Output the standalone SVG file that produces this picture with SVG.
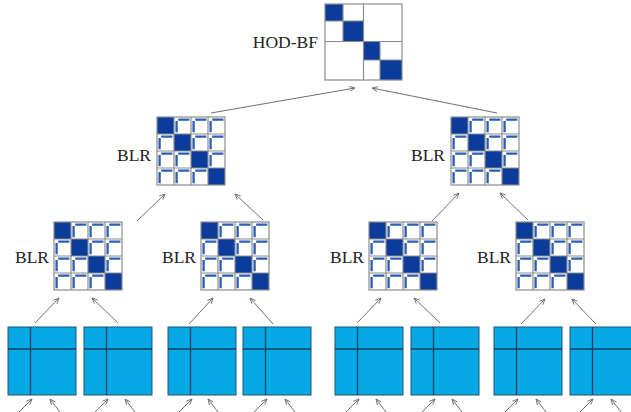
<svg xmlns="http://www.w3.org/2000/svg" xmlns:xlink="http://www.w3.org/1999/xlink" width="631" height="412" viewBox="0 0 631 412">
<style>
.lbl{font-family:"Liberation Serif","DejaVu Serif",serif;font-size:17.5px;fill:#222;text-anchor:end}
.grid{stroke:#8c8c8c;stroke-width:1.2;fill:none}
.diag{fill:#0b3b9b}
.mk{stroke:#2a5db3;stroke-width:2.3;fill:none}
.dense{fill:#05a9e6;stroke:#24506e;stroke-width:1}
.dl{stroke:#1d3f5a;stroke-width:1.3}
.conn{stroke:#707070;stroke-width:1;fill:none;marker-end:url(#ah)}
</style>
<defs>
<marker id="ah" viewBox="0 0 10 10" refX="9" refY="5" markerWidth="7" markerHeight="7" orient="auto" markerUnits="userSpaceOnUse">
<path d="M1,1.5 L9,5 L1,8.5" fill="none" stroke="#707070" stroke-width="1.3"/>
</marker>
<path id="cm" class="mk" d="M2.6,4 V15.2 M4.2,2.6 H15.4"/>
<g id="blr">
<rect x="0" y="0" width="68" height="68" fill="#fff"/>
<rect class="diag" x="0" y="0" width="17" height="17"/>
<rect class="diag" x="17" y="17" width="17" height="17"/>
<rect class="diag" x="34" y="34" width="17" height="17"/>
<rect class="diag" x="51" y="51" width="17" height="17"/>
<use xlink:href="#cm" x="17" y="0"/><use xlink:href="#cm" x="34" y="0"/><use xlink:href="#cm" x="51" y="0"/>
<use xlink:href="#cm" x="0" y="17"/><use xlink:href="#cm" x="34" y="17"/><use xlink:href="#cm" x="51" y="17"/>
<use xlink:href="#cm" x="0" y="34"/><use xlink:href="#cm" x="17" y="34"/><use xlink:href="#cm" x="51" y="34"/>
<use xlink:href="#cm" x="0" y="51"/><use xlink:href="#cm" x="17" y="51"/><use xlink:href="#cm" x="34" y="51"/>
<path class="grid" d="M17,0V68M34,0V68M51,0V68M0,17H68M0,34H68M0,51H68"/>
<rect class="grid" x="0" y="0" width="68" height="68"/>
</g>
<g id="dn">
<rect class="dense" x="0" y="0" width="68" height="68"/>
<path class="dl" d="M22.5,0V68M0,22H68"/>
</g>
</defs>

<g id="hodbf">
<rect x="325" y="4" width="77" height="76" fill="#fff"/>
<rect class="diag" x="325" y="4" width="18" height="17"/>
<rect class="diag" x="343" y="21" width="20" height="21"/>
<rect class="diag" x="363" y="42" width="17" height="18"/>
<rect class="diag" x="380" y="60" width="22" height="20"/>
<path class="grid" d="M363.5,4V80M325,41.5H402M343,4V42M325,21H363M380,42V80M363,60H402"/>
<rect class="grid" x="325" y="4" width="77" height="76"/>
<text class="lbl" x="318" y="48">HOD-BF</text>
</g>

<g id="blr-l2a"><use xlink:href="#blr" x="157" y="117"/><text class="lbl" x="151" y="161">BLR</text></g>
<g id="blr-l2b"><use xlink:href="#blr" x="451" y="117"/><text class="lbl" x="445" y="161">BLR</text></g>
<g id="blr-l3a"><use xlink:href="#blr" x="54" y="222"/><text class="lbl" x="49" y="263">BLR</text></g>
<g id="blr-l3b"><use xlink:href="#blr" x="201" y="222"/><text class="lbl" x="196" y="263">BLR</text></g>
<g id="blr-l3c"><use xlink:href="#blr" x="369" y="222"/><text class="lbl" x="364" y="263">BLR</text></g>
<g id="blr-l3d"><use xlink:href="#blr" x="516" y="222"/><text class="lbl" x="511" y="263">BLR</text></g>

<g id="d1"><use xlink:href="#dn" x="8" y="327"/></g>
<g id="d2"><use xlink:href="#dn" x="84" y="327"/></g>
<g id="d3"><use xlink:href="#dn" x="168" y="327"/></g>
<g id="d4"><use xlink:href="#dn" x="243" y="327"/></g>
<g id="d5"><use xlink:href="#dn" x="335" y="327"/></g>
<g id="d6"><use xlink:href="#dn" x="411" y="327"/></g>
<g id="d7"><use xlink:href="#dn" x="494" y="327"/></g>
<g id="d8"><use xlink:href="#dn" x="570" y="327"/></g>

<g id="connectors">
<path class="conn" d="M211,113L355,88"/>
<path class="conn" d="M497,113L372,88"/>
<path class="conn" d="M137,221L165,194"/>
<path class="conn" d="M263,220L235,194"/>
<path class="conn" d="M432,221L459,193"/>
<path class="conn" d="M528,220L500,193"/>
<path class="conn" d="M35,323L59,298"/>
<path class="conn" d="M118,323L92,298"/>
<path class="conn" d="M189,324L213,298"/>
<path class="conn" d="M273,324L250,298"/>
<path class="conn" d="M357,323L381,298"/>
<path class="conn" d="M440,323L414,298"/>
<path class="conn" d="M521,324L545,299"/>
<path class="conn" d="M596,324L572,299"/>
<path class="conn" d="M19,412L32,399"/><path class="conn" d="M60,412L50,399"/>
<path class="conn" d="M95,412L108,399"/><path class="conn" d="M135,412L125,399"/>
<path class="conn" d="M179,412L192,399"/><path class="conn" d="M218,412L208,399"/>
<path class="conn" d="M254,412L267,399"/><path class="conn" d="M295,412L285,399"/>
<path class="conn" d="M346,412L359,399"/><path class="conn" d="M386,412L376,399"/>
<path class="conn" d="M422,412L435,399"/><path class="conn" d="M462,412L452,399"/>
<path class="conn" d="M505,412L518,399"/><path class="conn" d="M546,412L536,399"/>
<path class="conn" d="M580,412L593,399"/><path class="conn" d="M621,412L611,399"/>
</g>
</svg>
